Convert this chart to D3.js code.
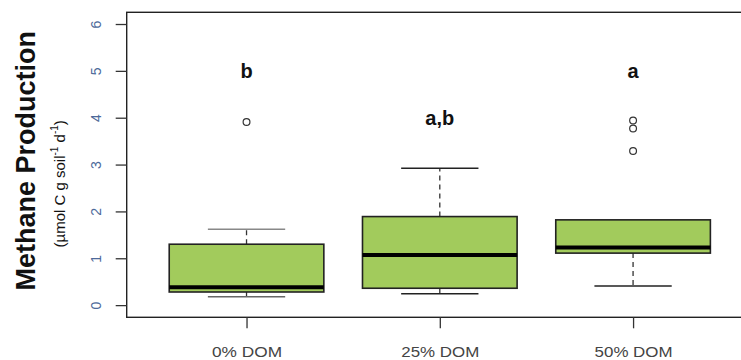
<!DOCTYPE html>
<html>
<head>
<meta charset="utf-8">
<script src="https://cdn.jsdelivr.net/npm/d3@7"></script>
<style>
  html, body { margin: 0; padding: 0; background: #fff; }
  svg { display: block; font-family: "Liberation Sans", Arial, sans-serif; }
</style>
</head>
<body>
<svg id="chart" width="741" height="360"></svg>
<script>
// Treatment groups
const categories = ["0% DOM", "25% DOM", "50% DOM"];
// Box-and-whisker summary per group (µmol C g soil^-1 d^-1)
const lowerWhisker = [0.18, 0.24, 0.41];
const q1 = [0.28, 0.36, 1.11];
const median = [0.38, 1.07, 1.23];
const q3 = [1.30, 1.89, 1.82];
const upperWhisker = [1.62, 2.92, 1.82];
const outliers = [[3.91], [], [3.94, 3.77, 3.29]];
// Significance letters and the value they sit at
const letters = ["b", "a,b", "a"];
const letterAt = [5, 4, 5];
// Y axis ticks
const yTicks = [0, 1, 2, 3, 4, 5, 6];

const svg = d3.select("#chart");

const plot = { left: 126.7, top: 12.3, bottom: 317.3, right: 752.9 };

const x = d3.scaleLinear().domain([0.38, 3.62]).range([plot.left, plot.right]);
const y = d3.scaleLinear().domain([-0.26, 6.25]).range([plot.bottom, plot.top]);
const unit = x(2) - x(1);
const boxW = unit * 0.8;
const capW = boxW * 0.5;

const groups = categories.map((c, i) => ({
  name: c, pos: i + 1,
  lo: lowerWhisker[i], q1: q1[i], med: median[i], q3: q3[i], hi: upperWhisker[i],
  out: outliers[i], letter: letters[i], letterAt: letterAt[i]
}));

const g = svg.append("g");

// Whiskers (dashed)
g.selectAll("line.wu").data(groups.filter(d => d.hi > d.q3)).join("line")
  .attr("x1", d => x(d.pos)).attr("x2", d => x(d.pos))
  .attr("y1", d => y(d.q3)).attr("y2", d => y(d.hi))
  .attr("stroke", "#333").attr("stroke-width", 1.3).attr("stroke-dasharray", "5,4");
g.selectAll("line.wl").data(groups.filter(d => d.lo < d.q1)).join("line")
  .attr("x1", d => x(d.pos)).attr("x2", d => x(d.pos))
  .attr("y1", d => y(d.q1)).attr("y2", d => y(d.lo))
  .attr("stroke", "#333").attr("stroke-width", 1.3).attr("stroke-dasharray", "5,4");

// Staples
g.selectAll("line.cu").data(groups.filter(d => d.hi > d.q3)).join("line")
  .attr("x1", d => x(d.pos) - capW / 2).attr("x2", d => x(d.pos) + capW / 2)
  .attr("y1", d => y(d.hi)).attr("y2", d => y(d.hi))
  .attr("stroke", (d, i) => i === 0 ? "#888" : "#222").attr("stroke-width", 1.5);
g.selectAll("line.cl").data(groups).join("line")
  .attr("x1", d => x(d.pos) - capW / 2).attr("x2", d => x(d.pos) + capW / 2)
  .attr("y1", d => y(d.lo)).attr("y2", d => y(d.lo))
  .attr("stroke", (d, i) => i === 0 ? "#666" : "#222").attr("stroke-width", 1.5);

// Boxes
g.selectAll("rect.box").data(groups).join("rect")
  .attr("x", d => x(d.pos) - boxW / 2).attr("width", boxW)
  .attr("y", d => y(d.q3)).attr("height", d => y(d.q1) - y(d.q3))
  .attr("fill", "#a2cb5c").attr("stroke", "#222").attr("stroke-width", 1.6);

// Medians
g.selectAll("line.med").data(groups).join("line")
  .attr("x1", d => x(d.pos) - boxW / 2).attr("x2", d => x(d.pos) + boxW / 2)
  .attr("y1", d => y(d.med)).attr("y2", d => y(d.med))
  .attr("stroke", "#000").attr("stroke-width", 4);

// Outliers
const outPts = groups.flatMap(d => d.out.map(v => ({ pos: d.pos, v })));
g.selectAll("circle.out").data(outPts).join("circle")
  .attr("cx", d => x(d.pos)).attr("cy", d => y(d.v)).attr("r", 3.4)
  .attr("fill", "none").attr("stroke", "#333").attr("stroke-width", 1.2);

// Significance letters
g.selectAll("text.letter").data(groups).join("text")
  .attr("x", d => x(d.pos)).attr("y", d => y(d.letterAt))
  .attr("text-anchor", "middle").attr("dy", "0.35em")
  .attr("font-size", 20).attr("font-weight", "bold").attr("fill", "#111")
  .text(d => d.letter);

// Plot frame
svg.append("rect")
  .attr("x", plot.left).attr("y", plot.top)
  .attr("width", plot.right - plot.left).attr("height", plot.bottom - plot.top)
  .attr("fill", "none").attr("stroke", "#222").attr("stroke-width", 1.4);

// Y axis
const yAxis = svg.append("g")
  .attr("transform", `translate(${plot.left},0)`)
  .call(d3.axisLeft(y).tickValues(yTicks).tickSize(11).tickPadding(0).tickFormat(d3.format("d")));
yAxis.select(".domain").remove();
yAxis.selectAll(".tick line").attr("stroke", "#333").attr("stroke-width", 1.3);
yAxis.selectAll(".tick text")
  .attr("x", null).attr("dy", null)
  .attr("transform", "translate(-26,0) rotate(-90)")
  .attr("text-anchor", "middle")
  .attr("font-size", 14).attr("fill", "#4d6a9a")
  .attr("font-family", "Liberation Sans, Arial, sans-serif");

// X axis
const xAxis = svg.append("g")
  .attr("transform", `translate(0,${plot.bottom})`)
  .call(d3.axisBottom(x).tickValues(groups.map(d => d.pos)).tickSize(11).tickPadding(18)
    .tickFormat(d => categories[d - 1]));
xAxis.select(".domain").remove();
xAxis.selectAll(".tick line").attr("stroke", "#333").attr("stroke-width", 1.3);
xAxis.selectAll(".tick text")
  .attr("font-size", 14.5).attr("fill", "#444")
  .attr("font-family", "Liberation Sans, Arial, sans-serif")
  .attr("textLength", d => d === 1 ? 70 : 78)
  .attr("lengthAdjust", "spacingAndGlyphs");

// Y axis title
const midY = (plot.top + plot.bottom) / 2;
svg.append("text")
  .attr("transform", `translate(35,${midY - 4}) rotate(-90)`)
  .attr("text-anchor", "middle")
  .attr("font-size", 27).attr("font-weight", "bold").attr("fill", "#111")
  .text("Methane Production");

const sub = svg.append("text")
  .attr("transform", `translate(65,${midY + 19}) rotate(-90)`)
  .attr("text-anchor", "middle")
  .attr("font-size", 15).attr("fill", "#111");
sub.append("tspan").text("(µmol C g soil");
sub.append("tspan").attr("dy", -7).attr("font-size", 10).text("-1");
sub.append("tspan").attr("dy", 7).text(" d");
sub.append("tspan").attr("dy", -7).attr("font-size", 10).text("-1");
sub.append("tspan").attr("dy", 7).text(")");
</script>
</body>
</html>
